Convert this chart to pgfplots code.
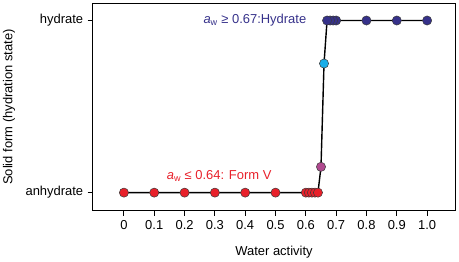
\documentclass[border=0pt]{standalone}
\usepackage{fontspec}
\setmainfont{Liberation Sans}
\usepackage{pgfplots}
\pgfplotsset{compat=1.18}
\definecolor{cred}{HTML}{E8202A}
\definecolor{cblue}{HTML}{36318A}
\definecolor{ccyan}{HTML}{1AAEE8}
\definecolor{cmag}{HTML}{B0498F}
\definecolor{cedge}{HTML}{3A3A3A}
\begin{document}
\fontsize{13}{15}\selectfont
\begin{tikzpicture}
\begin{axis}[
  scale only axis,
  width=362.6bp, height=207.4bp,
  xmin=-0.103, xmax=1.093,
  ymin=-0.105, ymax=1.10,
  axis line style={line width=1.2bp},
  tick align=outside,
  major tick length=5bp,
  tick style={line width=1bp, black},
  xtick={0,0.1,0.2,0.3,0.4,0.5,0.6,0.7,0.8,0.9,1.0},
  xticklabels={0,0.1,0.2,0.3,0.4,0.5,0.6,0.7,0.8,0.9,1.0},
  ytick={0,1},
  yticklabels={anhydrate,hydrate},
  xtick pos=bottom, ytick pos=left,
  /pgf/number format/assume math mode=true,
  ticklabel style={font=\fontsize{13}{15}\selectfont},
  every axis x label/.style={at={(axis description cs:0.5,0)}, yshift=-41bp, anchor=center, font=\fontsize{13}{15}\selectfont},
  every axis y label/.style={at={(axis description cs:0,0.5)}, xshift=-83.7bp, rotate=90, anchor=center, font=\fontsize{13}{15}\selectfont},
  xlabel={Water activity},
  ylabel={Solid form (hydration state)},
  clip=false,
]
\addplot[black, line width=1.4bp, no marks] coordinates {
  (0,0) (0.1,0) (0.2,0) (0.3,0) (0.4,0) (0.5,0) (0.60,0) (0.61,0) (0.62,0) (0.63,0) (0.64,0)
  (0.65,0.15) (0.66,0.75) (0.67,1) (0.68,1) (0.69,1) (0.70,1) (0.8,1) (0.9,1) (1.0,1)
};
\addplot[only marks, mark=*, mark size=4.6bp, mark options={fill=cred, draw=cedge, line width=0.5bp}] coordinates {
  (0,0) (0.1,0) (0.2,0) (0.3,0) (0.4,0) (0.5,0) (0.60,0) (0.61,0) (0.62,0) (0.63,0) (0.64,0)
};
\addplot[only marks, mark=*, mark size=4.6bp, mark options={fill=cmag, draw=cedge, line width=0.5bp}] coordinates {(0.65,0.15)};
\addplot[only marks, mark=*, mark size=4.6bp, mark options={fill=ccyan, draw=cedge, line width=0.5bp}] coordinates {(0.66,0.75)};
\addplot[only marks, mark=*, mark size=4.6bp, mark options={fill=cblue, draw=cedge, line width=0.5bp}] coordinates {
  (1.0,1) (0.9,1) (0.8,1) (0.70,1) (0.69,1) (0.68,1) (0.67,1)
};
\node[text=cblue, font=\fontsize{13}{15}\selectfont] at (axis cs:0.432,1) {{\itshape a}\textsubscript{w} ≥ 0.67:Hydrate};
\node[text=cred, font=\fontsize{13}{15}\selectfont] at (axis cs:0.314,0.097) {{\itshape a}\textsubscript{w} ≤ 0.64: Form V};
\end{axis}
\pgfresetboundingbox
\path[use as bounding box] (-92.7bp,-51.3bp) rectangle (366.3bp,210.7bp);
\end{tikzpicture}
\end{document}
